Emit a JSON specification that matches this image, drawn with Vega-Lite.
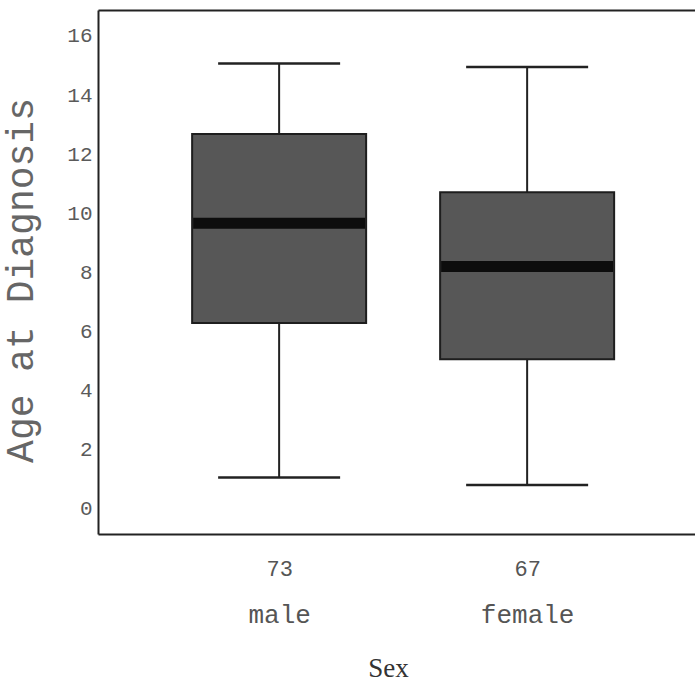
{
  "$schema": "https://vega.github.io/schema/vega-lite/v6.json",
  "width": 597,
  "height": 524,
  "autosize": {"type": "none"},
  "padding": {"left": 98, "top": 10, "right": 0, "bottom": 150},
  "background": "white",
  "config": {"view": {"stroke": null}},
  "data": {"values": [
    {"sex": "male", "n": "73", "lower": 1.04, "q1": 6.28, "median": 9.66, "q3": 12.68, "upper": 15.07},
    {"sex": "female", "n": "67", "lower": 0.79, "q1": 5.05, "median": 8.19, "q3": 10.71, "upper": 14.95}
  ]},
  "layer": [
    {
      "mark": {"type": "rule", "color": "#222", "strokeWidth": 2},
      "encoding": {
        "x": {"field": "sex", "type": "nominal", "sort": null,
          "scale": {"type": "point", "padding": 0.7036, "align": 0.519},
          "axis": {"orient": "bottom", "domain": true, "domainColor": "#222", "domainWidth": 2, "ticks": false, "grid": false,
            "labelFont": "Liberation Mono", "labelFontSize": 26, "labelColor": "#555", "labelBaseline": "alphabetic", "labelPadding": 88, "labelAngle": 0,
            "title": "Sex", "titleFont": "Liberation Serif", "titleFontSize": 27, "titleFontWeight": "normal", "titleColor": "#333",
            "titleX": 290, "titleY": 142, "titleBaseline": "alphabetic"}},
        "y": {"field": "lower", "type": "quantitative",
          "scale": {"domain": [-0.87, 16.88], "nice": false, "zero": false},
          "axis": {"values": [0, 2, 4, 6, 8, 10, 12, 14, 16], "grid": false, "ticks": false, "domain": true, "domainColor": "#222", "domainWidth": 2,
            "labelFont": "Liberation Mono", "labelFontSize": 21, "labelColor": "#5a5a5a", "labelPadding": 6,
            "title": "Age at Diagnosis", "titleFont": "Liberation Mono", "titleFontSize": 38, "titleFontWeight": "normal", "titleColor": "#666",
            "titleX": -66, "titleY": 270, "titleBaseline": "alphabetic"}},
        "y2": {"field": "upper"}
      }
    },
    {
      "mark": {"type": "tick", "color": "#222", "opacity": 1, "thickness": 2.5, "size": 122},
      "encoding": {
        "x": {"field": "sex", "type": "nominal", "sort": null,
          "scale": {"type": "point", "padding": 0.7036, "align": 0.519},
          "axis": {"orient": "top", "domain": true, "domainColor": "#222", "domainWidth": 2, "ticks": false, "labels": false, "grid": false, "title": null}},
        "y": {"field": "lower", "type": "quantitative"}
      }
    },
    {
      "mark": {"type": "tick", "color": "#222", "opacity": 1, "thickness": 2.5, "size": 122},
      "encoding": {
        "x": {"field": "n", "type": "nominal", "sort": null,
          "scale": {"type": "point", "padding": 0.7036, "align": 0.519},
          "axis": {"orient": "bottom", "domain": false, "ticks": false, "grid": false, "title": null,
            "labelFont": "Liberation Mono", "labelFontSize": 22, "labelColor": "#555", "labelBaseline": "alphabetic", "labelPadding": 41, "labelAngle": 0}},
        "y": {"field": "upper", "type": "quantitative"}
      }
    },
    {
      "mark": {"type": "bar", "fill": "#575757", "stroke": "#1e1e1e", "strokeWidth": 2, "size": 174},
      "encoding": {
        "x": {"field": "sex", "type": "nominal", "sort": null,
          "scale": {"type": "point", "padding": 0.7036, "align": 0.519}, "axis": null},
        "y": {"field": "q1", "type": "quantitative"},
        "y2": {"field": "q3"}
      }
    },
    {
      "mark": {"type": "tick", "color": "#0d0d0d", "opacity": 1, "thickness": 11, "size": 172},
      "encoding": {
        "x": {"field": "sex", "type": "nominal", "sort": null,
          "scale": {"type": "point", "padding": 0.7036, "align": 0.519}, "axis": null},
        "y": {"field": "median", "type": "quantitative"}
      }
    }
  ],
  "resolve": {"scale": {"x": "independent"}, "axis": {"x": "independent"}}
}
